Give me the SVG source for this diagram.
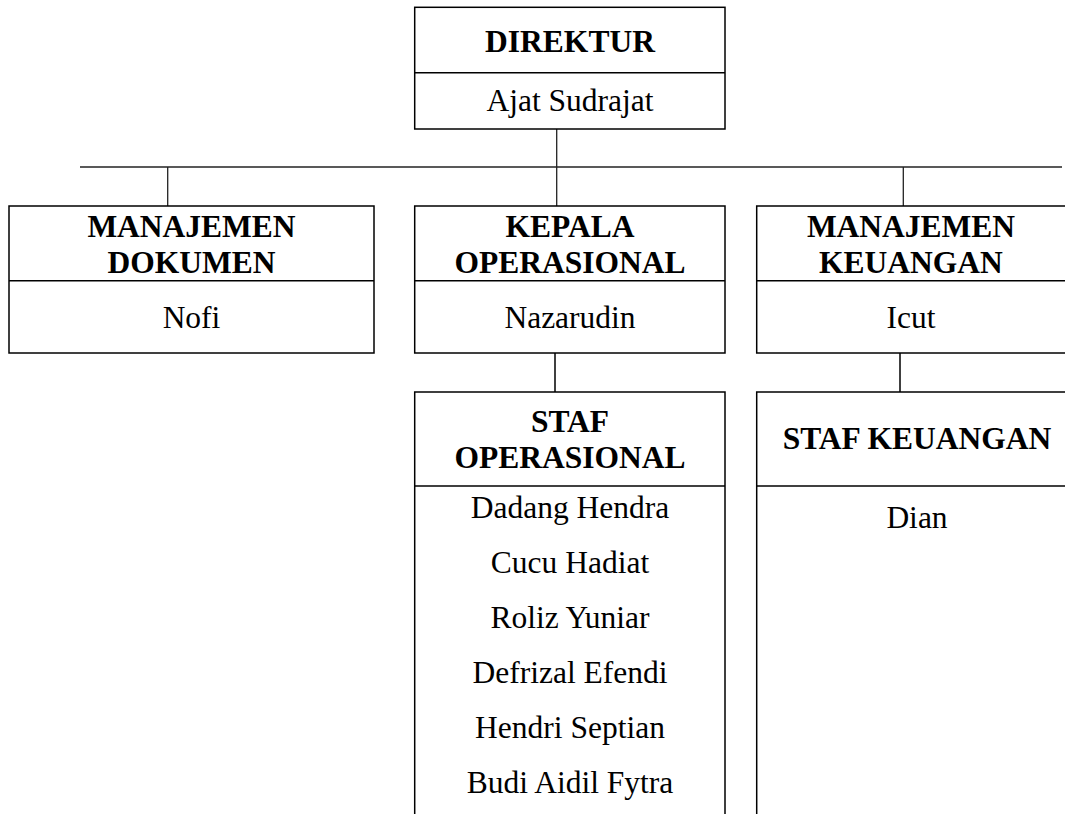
<svg xmlns="http://www.w3.org/2000/svg" width="1065" height="814" viewBox="0 0 1065 814">
<style>
.box{fill:#fff;stroke:#000;stroke-width:1.5}
.ln{stroke:#000;stroke-width:1.5;fill:none}
.con{stroke:#222;stroke-width:1.3;fill:none}
.t{font-family:"Liberation Serif","Times New Roman",serif;font-size:31.5px;fill:#000;text-anchor:middle}
.b{font-weight:bold}
</style>
<rect width="1065" height="814" fill="#fff"/>
<g id="connectors">
<line class="con" x1="556.7" y1="129" x2="556.7" y2="167"/>
<line class="con" x1="80" y1="167" x2="1062" y2="167"/>
<line class="con" x1="167.7" y1="167" x2="167.7" y2="206"/>
<line class="con" x1="556.7" y1="167" x2="556.7" y2="206"/>
<line class="con" x1="903.3" y1="167" x2="903.3" y2="206"/>
<line class="ln" x1="555" y1="353" x2="555" y2="392"/>
<line class="ln" x1="900" y1="353" x2="900" y2="392"/>
</g>
<g id="direktur">
<rect class="box" x="414.7" y="7.3" width="310.3" height="121.7"/>
<line class="ln" x1="414.7" y1="72.7" x2="725" y2="72.7"/>
<text class="t b" x="570" y="51.7">DIREKTUR</text>
<text class="t" x="570" y="111">Ajat Sudrajat</text>
</g>
<g id="manajemen-dokumen">
<rect class="box" x="9" y="206" width="365" height="147"/>
<line class="ln" x1="9" y1="280.7" x2="374" y2="280.7"/>
<text class="t b" x="191.5" y="237.3">MANAJEMEN</text>
<text class="t b" x="191.5" y="272.7">DOKUMEN</text>
<text class="t" x="191.5" y="328.3">Nofi</text>
</g>
<g id="kepala-operasional">
<rect class="box" x="414.7" y="206" width="310.3" height="147"/>
<line class="ln" x1="414.7" y1="280.7" x2="725" y2="280.7"/>
<text class="t b" x="570" y="237.3">KEPALA</text>
<text class="t b" x="570" y="272.7">OPERASIONAL</text>
<text class="t" x="570" y="328.3">Nazarudin</text>
</g>
<g id="manajemen-keuangan">
<rect class="box" x="756.7" y="206" width="320" height="147"/>
<line class="ln" x1="756.7" y1="280.7" x2="1070" y2="280.7"/>
<text class="t b" x="911" y="237.3">MANAJEMEN</text>
<text class="t b" x="911" y="272.7">KEUANGAN</text>
<text class="t" x="911" y="328.3">Icut</text>
</g>
<g id="staf-operasional">
<path class="ln" d="M414.7 820 V392 H725 V820"/>
<line class="ln" x1="414.7" y1="486" x2="725" y2="486"/>
<text class="t b" x="570" y="431.7">STAF</text>
<text class="t b" x="570" y="468.3">OPERASIONAL</text>
<text class="t" x="570" y="518">Dadang Hendra</text>
<text class="t" x="570" y="573">Cucu Hadiat</text>
<text class="t" x="570" y="628">Roliz Yuniar</text>
<text class="t" x="570" y="683">Defrizal Efendi</text>
<text class="t" x="570" y="738">Hendri Septian</text>
<text class="t" x="570" y="793">Budi Aidil Fytra</text>
</g>
<g id="staf-keuangan">
<path class="ln" d="M756.7 820 V392 H1070"/>
<line class="ln" x1="756.7" y1="486" x2="1070" y2="486"/>
<text class="t b" x="917" y="449">STAF KEUANGAN</text>
<text class="t" x="917" y="528">Dian</text>
</g>
</svg>
